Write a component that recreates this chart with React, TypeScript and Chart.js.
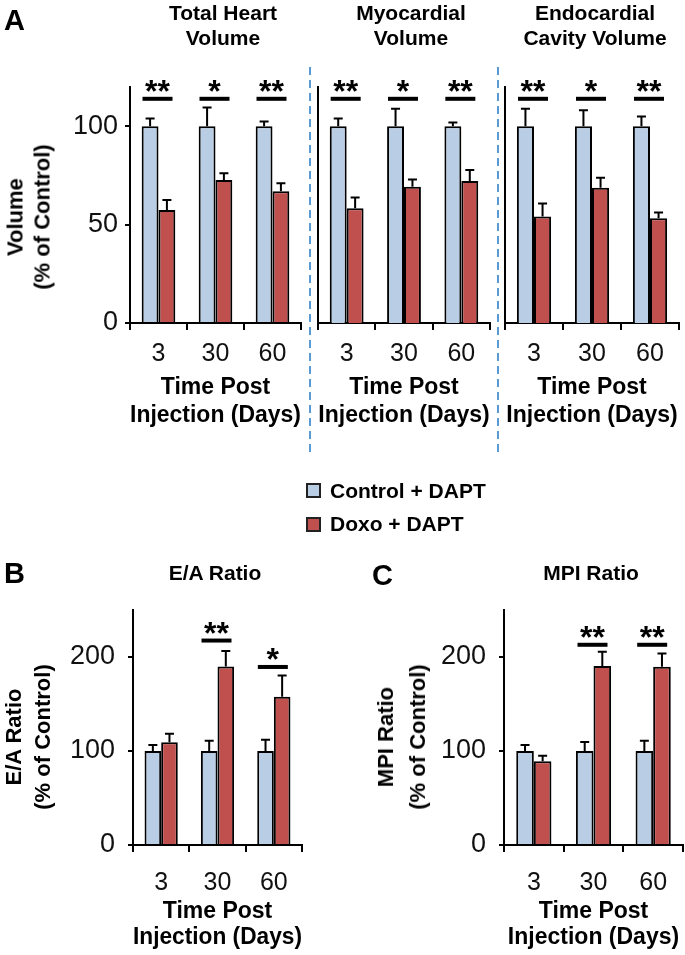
import React, { useEffect, useRef } from 'react';
import { Chart, registerables } from 'chart.js';
Chart.register(...registerables);

const FONT = '"Liberation Sans", Arial, Helvetica, sans-serif';

// ---------- data ----------
const days = ['3', '30', '60'];
const seriesNames = ['Control + DAPT', 'Doxo + DAPT'];
const xAxisTitle = ['Time Post', 'Injection (Days)'];

const totalHeartControl = [100, 100, 100];
const totalHeartControlErr = [4, 9.6, 2.5];
const totalHeartDoxo = [57.5, 72.7, 67];
const totalHeartDoxoErr = [5, 3.5, 4];
const totalHeartSig = ['**', '*', '**'];
const totalHeartSigLevel = [114, 114, 114];

const myocardialControl = [100, 100, 100];
const myocardialControlErr = [4, 9, 2];
const myocardialDoxo = [58.4, 69.3, 72.2];
const myocardialDoxoErr = [5.4, 3.7, 5.6];
const myocardialSig = ['**', '*', '**'];
const myocardialSigLevel = [114, 114, 114];

const endocardialControl = [100, 100, 100];
const endocardialControlErr = [9, 8.2, 5];
const endocardialDoxo = [54.2, 68.8, 53.2];
const endocardialDoxoErr = [6.6, 5, 3];
const endocardialSig = ['**', '*', '**'];
const endocardialSigLevel = [114, 114, 114];

const eaControl = [100, 100, 100];
const eaControlErr = [6.5, 11, 12];
const eaDoxo = [109.3, 189.8, 157.7];
const eaDoxoErr = [9, 16.5, 22.5];
const eaSig = ['', '**', '*'];
const eaSigLevel = [0, 217.5, 189.4];

const mpiControl = [100, 100, 100];
const mpiControlErr = [6.5, 9.5, 11];
const mpiDoxo = [89, 190.5, 189.7];
const mpiDoxoErr = [6, 15, 14];
const mpiSig = ['', '**', '**'];
const mpiSigLevel = [0, 213, 213];

const volumeTicksMax = 120;
const volumeTickStep = 50;
const ratioTicksMax = 250;
const ratioTickStep = 100;

// ---------- styles ----------
const BLUE = '#B9CDE5';
const RED = '#C0504D';

type Layout = {
  left: number; top: number; width: number; height: number;
  yWidth: number; padTop: number; padRight: number; xHeight: number;
  xTickPad: number; xTitlePadBottom: number; xTitleLH: number; yTickPad: number;
};

type Spec = {
  control: number[]; controlErr: number[]; doxo: number[]; doxoErr: number[];
  sig: string[]; sigLevel: number[]; yMax: number; yStep: number; showYTicks: boolean;
  layout: Layout;
};

function BarPanel({ spec }: { spec: Spec }) {
  const ref = useRef<HTMLCanvasElement | null>(null);
  useEffect(() => {
    if (!ref.current) return;
    const L = spec.layout;
    const annot = {
      id: 'annot',
      afterDatasetsDraw(chart: any) {
        const ctx = chart.ctx;
        const ys = chart.scales.y;
        const xs = chart.scales.x;
        const errs = [spec.controlErr, spec.doxoErr];
        ctx.save();
        ctx.strokeStyle = '#000';
        ctx.lineWidth = 2;
        chart.data.datasets.forEach((ds: any, di: number) => {
          const meta = chart.getDatasetMeta(di);
          meta.data.forEach((bar: any, i: number) => {
            const v = ds.data[i];
            const e = errs[di][i];
            const x = bar.x;
            const y0 = ys.getPixelForValue(v);
            const y1 = ys.getPixelForValue(v + e);
            ctx.beginPath();
            ctx.moveTo(x, y0);
            ctx.lineTo(x, y1);
            ctx.moveTo(x - 4.5, y1);
            ctx.lineTo(x + 4.5, y1);
            ctx.stroke();
          });
        });
        spec.sig.forEach((s, i) => {
          if (!s) return;
          const cx = xs.getPixelForValue(i) - 1;
          const ly = ys.getPixelForValue(spec.sigLevel[i]);
          ctx.lineWidth = 4;
          ctx.beginPath();
          ctx.moveTo(cx - 15, ly);
          ctx.lineTo(cx + 15, ly);
          ctx.stroke();
          ctx.fillStyle = '#000';
          ctx.font = `bold 32px ${FONT}`;
          ctx.textAlign = 'center';
          ctx.textBaseline = 'alphabetic';
          ctx.fillText(s, cx, ly + 3);
        });
        ctx.restore();
      },
    };
    const chart = new Chart(ref.current, {
      type: 'bar',
      data: {
        labels: days,
        datasets: [
          { label: seriesNames[0], data: spec.control, backgroundColor: BLUE, borderColor: '#000', borderWidth: 2, categoryPercentage: 0.59, barPercentage: 1 },
          { label: seriesNames[1], data: spec.doxo, backgroundColor: RED, borderColor: '#000', borderWidth: 2, categoryPercentage: 0.59, barPercentage: 1 },
        ],
      },
      options: {
        responsive: false,
        animation: false,
        devicePixelRatio: 1,
        layout: { padding: { top: L.padTop, right: L.padRight, bottom: 0, left: 0 } },
        plugins: { legend: { display: false }, tooltip: { enabled: false }, title: { display: false } },
        scales: {
          x: {
            type: 'category',
            grid: { display: true, offset: true, drawOnChartArea: false, drawTicks: true, tickLength: 7, color: '#000', lineWidth: 2 },
            border: { display: true, color: '#000', width: 2 },
            ticks: { font: { family: FONT, size: 25 }, color: '#111', padding: L.xTickPad, maxRotation: 0, autoSkip: false },
            title: {
              display: true, text: xAxisTitle, color: '#000',
              font: { family: FONT, size: 23, weight: 'bold', lineHeight: L.xTitleLH },
              padding: { top: 0, bottom: L.xTitlePadBottom },
            },
            afterFit: (s: any) => { s.height = L.xHeight; },
          },
          y: {
            min: 0, max: spec.yMax,
            afterBuildTicks: (s: any) => { s.ticks = s.ticks.filter((t: any) => t.value % spec.yStep === 0); },
            ticks: { stepSize: spec.yStep, display: spec.showYTicks, font: { family: FONT, size: 27 }, color: '#111', padding: L.yTickPad },
            grid: { display: spec.showYTicks, drawOnChartArea: false, drawTicks: true, tickLength: 5, color: '#000', lineWidth: 2 },
            border: { display: true, color: '#000', width: 2 },
            afterFit: (s: any) => { s.width = L.yWidth; },
          },
        },
      } as any,
      plugins: [annot],
    });
    return () => chart.destroy();
  }, [spec]);
  const L = spec.layout;
  return (
    <canvas
      ref={ref}
      width={L.width}
      height={L.height}
      style={{ position: 'absolute', left: L.left, top: L.top, width: L.width, height: L.height }}
    />
  );
}

const topLayoutBase = { top: 0, height: 440, padTop: 87, xHeight: 117, xTickPad: 9, xTitlePadBottom: 10, xTitleLH: 28 / 23, yTickPad: 7 };
const botLayoutBase = { top: 545, height: 410, padTop: 65, xHeight: 110, xTickPad: 16, xTitlePadBottom: 4, xTitleLH: 26 / 23, yTickPad: 13 };

const specs: Spec[] = [
  { control: totalHeartControl, controlErr: totalHeartControlErr, doxo: totalHeartDoxo, doxoErr: totalHeartDoxoErr, sig: totalHeartSig, sigLevel: totalHeartSigLevel, yMax: volumeTicksMax, yStep: volumeTickStep, showYTicks: true,
    layout: { ...topLayoutBase, left: 0, width: 308, yWidth: 130, padRight: 7 } },
  { control: myocardialControl, controlErr: myocardialControlErr, doxo: myocardialDoxo, doxoErr: myocardialDoxoErr, sig: myocardialSig, sigLevel: myocardialSigLevel, yMax: volumeTicksMax, yStep: volumeTickStep, showYTicks: false,
    layout: { ...topLayoutBase, left: 306, width: 190, yWidth: 12, padRight: 6 } },
  { control: endocardialControl, controlErr: endocardialControlErr, doxo: endocardialDoxo, doxoErr: endocardialDoxoErr, sig: endocardialSig, sigLevel: endocardialSigLevel, yMax: volumeTicksMax, yStep: volumeTickStep, showYTicks: false,
    layout: { ...topLayoutBase, left: 494, width: 191, yWidth: 11, padRight: 6 } },
  { control: eaControl, controlErr: eaControlErr, doxo: eaDoxo, doxoErr: eaDoxoErr, sig: eaSig, sigLevel: eaSigLevel, yMax: ratioTicksMax, yStep: ratioTickStep, showYTicks: true,
    layout: { ...botLayoutBase, left: 0, width: 308, yWidth: 133, padRight: 6 } },
  { control: mpiControl, controlErr: mpiControlErr, doxo: mpiDoxo, doxoErr: mpiDoxoErr, sig: mpiSig, sigLevel: mpiSigLevel, yMax: ratioTicksMax, yStep: ratioTickStep, showYTicks: true,
    layout: { ...botLayoutBase, left: 360, width: 325, yWidth: 144, padRight: 2 } },
];

const txt: React.CSSProperties = { position: 'absolute', fontFamily: FONT, color: '#000', whiteSpace: 'nowrap' };

function Title({ cx, top, lines }: { cx: number; top: number; lines: string[] }) {
  return (
    <div style={{ ...txt, left: cx, top, transform: 'translateX(-50%)', fontWeight: 'bold', fontSize: 21, lineHeight: '25px', textAlign: 'center' }}>
      {lines.map((l, i) => <div key={i}>{l}</div>)}
    </div>
  );
}

function YTitle({ cx, cy, lines, lh }: { cx: number; cy: number; lines: string[]; lh: number }) {
  return (
    <div style={{ ...txt, left: cx, top: cy, transform: 'translate(-50%, -50%) rotate(-90deg)', fontWeight: 'bold', fontSize: 22, lineHeight: `${lh}px`, textAlign: 'center' }}>
      {lines.map((l, i) => <div key={i}>{l}</div>)}
    </div>
  );
}

function Dashed({ x }: { x: number }) {
  return (
    <div style={{ position: 'absolute', left: x, top: 67, width: 2, height: 385, backgroundImage: 'repeating-linear-gradient(to bottom, #5B9BD5 0px, #5B9BD5 8px, transparent 8px, transparent 13px)' }} />
  );
}

export default function App() {
  return (
    <div style={{ position: 'absolute', left: 0, top: 0, width: 685, height: 955, background: '#fff', overflow: 'hidden' }}>
      {specs.map((s, i) => <BarPanel key={i} spec={s} />)}
      <Dashed x={309} />
      <Dashed x={497} />
      <div style={{ ...txt, left: 4, top: 6, fontWeight: 'bold', fontSize: 29, lineHeight: 1 }}>A</div>
      <div style={{ ...txt, left: 4, top: 559, fontWeight: 'bold', fontSize: 29, lineHeight: 1 }}>B</div>
      <div style={{ ...txt, left: 372, top: 561, fontWeight: 'bold', fontSize: 29, lineHeight: 1 }}>C</div>
      <Title cx={223} top={0} lines={['Total Heart', 'Volume']} />
      <Title cx={411} top={0} lines={['Myocardial', 'Volume']} />
      <Title cx={595} top={0} lines={['Endocardial', 'Cavity Volume']} />
      <Title cx={215} top={560} lines={['E/A Ratio']} />
      <Title cx={591} top={560} lines={['MPI Ratio']} />
      <YTitle cx={29} cy={217} lines={['Volume', '(% of Control)']} lh={26.5} />
      <YTitle cx={27.5} cy={737} lines={['E/A Ratio', '(% of Control)']} lh={29} />
      <YTitle cx={402} cy={737} lines={['MPI Ratio', '(% of Control)']} lh={32} />
      <div style={{ position: 'absolute', left: 306, top: 483, width: 15, height: 15, boxSizing: 'border-box', border: '2px solid #222', background: BLUE }} />
      <div style={{ position: 'absolute', left: 306, top: 517, width: 15, height: 15, boxSizing: 'border-box', border: '2px solid #222', background: RED }} />
      <div style={{ ...txt, left: 330, top: 478, fontWeight: 'bold', fontSize: 21, lineHeight: '25px' }}>{seriesNames[0]}</div>
      <div style={{ ...txt, left: 330, top: 511, fontWeight: 'bold', fontSize: 21, lineHeight: '25px' }}>{seriesNames[1]}</div>
    </div>
  );
}
